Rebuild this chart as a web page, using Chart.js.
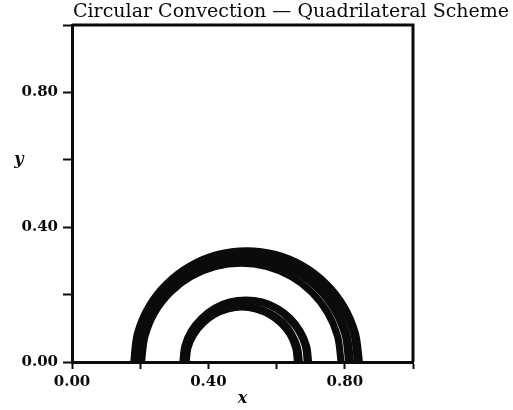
<!DOCTYPE html>
<html lang="en">

<head>
    <meta charset="UTF-8">
    <title>Circular Convection - Quadrilateral Scheme</title>
    <style>
        body {
            margin: 0;
            background: #fff;
        }

        #wrap {
            width: 513px;
            height: 410px;
        }
    </style>
</head>

<body>

    <div id="wrap">
        <canvas id="myChart"></canvas>
    </div>

    <script src="https://cdn.jsdelivr.net/npm/chart.js"></script>

    <script>
        // Chart text
        const titleText = 'Circular Convection \u2014 Quadrilateral Scheme';
        const xTitle = 'x';
        const yTitle = 'y';

        // Axis ticks (marks every 0.2, labels only on some)
        const tickStep = 0.2;
        const labelledTicks = [0, 0.4, 0.8];

        // Contour heights (same for every contour, going left to right)
        const outerRingY = [
            [0, 0.086, 0.167, 0.235, 0.288, 0.322, 0.333, 0.322, 0.288, 0.235, 0.167, 0.086, 0],
            [0, 0.084, 0.163, 0.230, 0.282, 0.315, 0.326, 0.315, 0.282, 0.230, 0.163, 0.084, 0],
            [0, 0.082, 0.158, 0.223, 0.273, 0.304, 0.315, 0.304, 0.273, 0.223, 0.158, 0.082, 0],
            [0, 0.079, 0.153, 0.216, 0.264, 0.295, 0.305, 0.295, 0.264, 0.216, 0.153, 0.079, 0],
            [0, 0.076, 0.147, 0.208, 0.255, 0.284, 0.294, 0.284, 0.255, 0.208, 0.147, 0.076, 0],
            [0, 0.075, 0.145, 0.205, 0.251, 0.280, 0.290, 0.280, 0.251, 0.205, 0.145, 0.075, 0]
        ];
        const outerRingX = [
            [0.178, 0.189, 0.223, 0.276, 0.345, 0.426, 0.512, 0.598, 0.679, 0.747, 0.800, 0.834, 0.846],
            [0.182, 0.193, 0.226, 0.278, 0.345, 0.424, 0.508, 0.592, 0.671, 0.738, 0.790, 0.823, 0.834],
            [0.190, 0.201, 0.232, 0.282, 0.347, 0.423, 0.505, 0.587, 0.663, 0.728, 0.778, 0.809, 0.820],
            [0.198, 0.208, 0.239, 0.287, 0.350, 0.424, 0.503, 0.582, 0.656, 0.719, 0.767, 0.798, 0.808],
            [0.204, 0.214, 0.243, 0.290, 0.351, 0.422, 0.498, 0.574, 0.645, 0.706, 0.753, 0.782, 0.792],
            [0.207, 0.217, 0.245, 0.291, 0.351, 0.421, 0.496, 0.571, 0.641, 0.701, 0.747, 0.776, 0.786]
        ];
        const innerRingY = [
            [0, 0.048, 0.093, 0.132, 0.162, 0.181, 0.187, 0.181, 0.162, 0.132, 0.093, 0.048, 0],
            [0, 0.047, 0.090, 0.127, 0.156, 0.174, 0.180, 0.174, 0.156, 0.127, 0.090, 0.047, 0],
            [0, 0.044, 0.084, 0.119, 0.145, 0.162, 0.168, 0.162, 0.145, 0.119, 0.084, 0.044, 0],
            [0, 0.041, 0.080, 0.113, 0.138, 0.154, 0.160, 0.154, 0.138, 0.113, 0.080, 0.041, 0]
        ];
        const innerRingX = [
            [0.322, 0.328, 0.347, 0.378, 0.416, 0.462, 0.510, 0.558, 0.603, 0.642, 0.672, 0.691, 0.697],
            [0.327, 0.333, 0.351, 0.380, 0.417, 0.460, 0.507, 0.554, 0.597, 0.634, 0.663, 0.681, 0.687],
            [0.334, 0.340, 0.357, 0.383, 0.418, 0.458, 0.502, 0.546, 0.586, 0.621, 0.647, 0.664, 0.670],
            [0.338, 0.343, 0.360, 0.386, 0.418, 0.457, 0.498, 0.539, 0.578, 0.611, 0.637, 0.653, 0.658]
        ];

        const ink = '#0b0b0b';
        const tickFont = { family: '"DejaVu Serif"', size: 15, weight: 'bold' };

        // Build one line dataset per contour
        function toDataset(xs, ys) {
            return {
                data: xs.map((x, i) => ({ x: x, y: ys[i] })),
                showLine: true,
                borderColor: ink,
                borderWidth: 5,
                pointRadius: 0,
                tension: 0.33,
                fill: false
            };
        }

        const datasets = [];
        outerRingX.forEach((xs, i) => datasets.push(toDataset(xs, outerRingY[i])));
        innerRingX.forEach((xs, i) => datasets.push(toDataset(xs, innerRingY[i])));

        function tickLabel(value) {
            const hit = labelledTicks.some(v => Math.abs(v - value) < 1e-6);
            return hit ? value.toFixed(2) : '';
        }

        // Frame on top/right, title and axis letters
        const framePlugin = {
            id: 'framePlugin',
            afterDraw(chart) {
                const { ctx, chartArea: a } = chart;
                ctx.save();
                ctx.strokeStyle = ink;
                ctx.lineWidth = 3;
                ctx.beginPath();
                ctx.moveTo(a.left, a.top);
                ctx.lineTo(a.right, a.top);
                ctx.lineTo(a.right, a.bottom);
                ctx.stroke();

                ctx.fillStyle = ink;
                ctx.font = '19px "DejaVu Serif"';
                ctx.textAlign = 'left';
                ctx.textBaseline = 'alphabetic';
                ctx.fillText(titleText, a.left + 1, 17);

                ctx.font = 'bold italic 16px "DejaVu Serif"';
                ctx.textAlign = 'center';
                ctx.textBaseline = 'middle';
                ctx.fillText(xTitle, (a.left + a.right) / 2, 399);
                ctx.fillText(yTitle, 19, chart.scales.y.getPixelForValue(0.6));
                ctx.restore();
            }
        };

        const ctx = document.getElementById('myChart').getContext('2d');
        const myChart = new Chart(ctx, {
            type: 'scatter',
            data: { datasets: datasets },
            options: {
                responsive: true,
                maintainAspectRatio: false,
                animation: false,
                layout: {
                    padding: { top: 25, right: 100, left: 0, bottom: 0 }
                },
                plugins: {
                    legend: { display: false },
                    tooltip: { enabled: false }
                },
                scales: {
                    x: {
                        type: 'linear',
                        min: 0,
                        max: 1,
                        afterFit: scale => { scale.height = 48; },
                        border: { color: ink, width: 3 },
                        grid: { drawOnChartArea: false, color: ink, tickLength: 7, tickWidth: 2 },
                        ticks: {
                            stepSize: tickStep,
                            autoSkip: false,
                            maxRotation: 0,
                            padding: 4,
                            color: ink,
                            font: tickFont,
                            callback: tickLabel
                        }
                    },
                    y: {
                        type: 'linear',
                        min: 0,
                        max: 1,
                        afterFit: scale => { scale.width = 72; },
                        border: { color: ink, width: 3 },
                        grid: { drawOnChartArea: false, color: ink, tickLength: 9, tickWidth: 2 },
                        ticks: {
                            stepSize: tickStep,
                            autoSkip: false,
                            padding: 5,
                            color: ink,
                            font: tickFont,
                            callback: tickLabel
                        }
                    }
                }
            },
            plugins: [framePlugin]
        });
    </script>

</body>

</html>
